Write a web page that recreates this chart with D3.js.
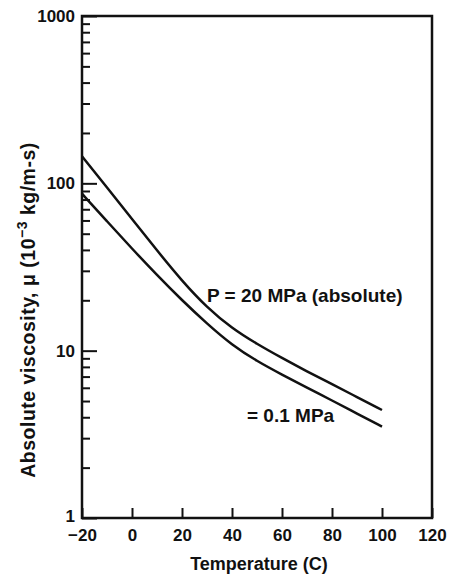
<!DOCTYPE html>
<html>
<head>
<meta charset="utf-8">
<script src="https://cdn.jsdelivr.net/npm/d3@7"></script>
<style>
    body { margin: 0; background: #fff; }
    text { font-family: "Liberation Sans", Arial, sans-serif; font-weight: bold; fill: #111; }
</style>
</head>
<body>
<div id="chart"></div>
<script>
'use strict';

// temperature (C)
const temps = [-20, -10, 0, 10, 20, 30, 40, 50, 60, 70, 80, 90, 100];
// absolute viscosity, 10^-3 kg/m-s
const visc20MPa = [145, 94.4, 61.2, 39.7, 26.1, 18.1, 13.6, 10.96, 9.04, 7.52, 6.31, 5.28, 4.42];
const visc01MPa = [86.7, 59.3, 40.7, 28.3, 20.0, 14.5, 10.8, 8.65, 7.19, 6.01, 5.04, 4.21, 3.52];

const xTicks = [-20, 0, 20, 40, 60, 80, 100, 120];
const yMajor = [1, 10, 100, 1000];
const yMinor = [2, 3, 4, 5, 6, 7, 8, 9, 20, 30, 40, 50, 60, 70, 80, 90, 200, 300, 400, 500, 600, 700, 800, 900];

const margin = { top: 16, right: 17, bottom: 58, left: 82 };
const width = 449 - margin.left - margin.right;
const height = 576 - margin.top - margin.bottom;

const root = d3.select("#chart")
    .append("svg")
    .attr("width", 449)
    .attr("height", 576);

const svg = root.append("g")
    .attr("transform", `translate(${margin.left},${margin.top})`);

const x = d3.scaleLinear().domain([-20, 120]).range([0, width]);
const y = d3.scaleLog().domain([1, 1000]).range([height, 0]);

// minor ticks on the left
svg.append("g")
    .attr("class", "y-minor")
    .call(d3.axisLeft(y).tickValues(yMinor).tickSize(-8).tickFormat(""))
    .call(g => g.select(".domain").remove());

// major ticks + labels
svg.append("g")
    .attr("class", "y-axis")
    .call(d3.axisLeft(y).tickValues(yMajor).tickSize(-15).tickPadding(7).tickFormat(d3.format("d")))
    .call(g => g.select(".domain").remove());

svg.append("g")
    .attr("class", "x-axis")
    .attr("transform", `translate(0,${height})`)
    .call(d3.axisBottom(x).tickValues(xTicks).tickSize(-10).tickPadding(11)
        .tickFormat(d => d < 0 ? "\u2212" + Math.abs(d) : d))
    .call(g => g.select(".domain").remove());

svg.selectAll(".tick line").attr("stroke", "#111").attr("stroke-width", 2);
svg.selectAll(".tick text").style("font-size", "17px").attr("fill", "#111");
// "1" sits a bit above the corner, as in the original
svg.selectAll(".y-axis .tick text").filter(d => d === 1).attr("dy", "0.2em");

// frame
svg.append("rect")
    .attr("width", width)
    .attr("height", height)
    .attr("fill", "none")
    .attr("stroke", "#111")
    .attr("stroke-width", 2.5);

// curves
const line = d3.line()
    .x((d, i) => x(temps[i]))
    .y(d => y(d))
    .curve(d3.curveBasis);

[visc20MPa, visc01MPa].forEach(series => {
    svg.append("path")
        .datum(series)
        .attr("fill", "none")
        .attr("stroke", "#111")
        .attr("stroke-width", 2.5)
        .attr("d", line);
});

// curve labels
svg.append("text")
    .attr("x", 207 - margin.left)
    .attr("y", 302 - margin.top)
    .style("font-size", "19px")
    .text("P = 20 MPa (absolute)");

svg.append("text")
    .attr("x", 247 - margin.left)
    .attr("y", 422 - margin.top)
    .style("font-size", "19px")
    .text("= 0.1 MPa");

// axis titles
root.append("text")
    .attr("x", 259)
    .attr("y", 570)
    .attr("text-anchor", "middle")
    .style("font-size", "18px")
    .text("Temperature (C)");

const yTitle = root.append("text")
    .attr("transform", "translate(35,310) rotate(-90)")
    .attr("text-anchor", "middle")
    .style("font-size", "19.5px")
    .style("letter-spacing", "0.5px");
yTitle.append("tspan").text("Absolute viscosity, \u03bc (10");
yTitle.append("tspan").attr("dy", -8).style("font-size", "14px").text("\u22123");
yTitle.append("tspan").attr("dy", 8).text(" kg/m-s)");
</script>
</body>
</html>
